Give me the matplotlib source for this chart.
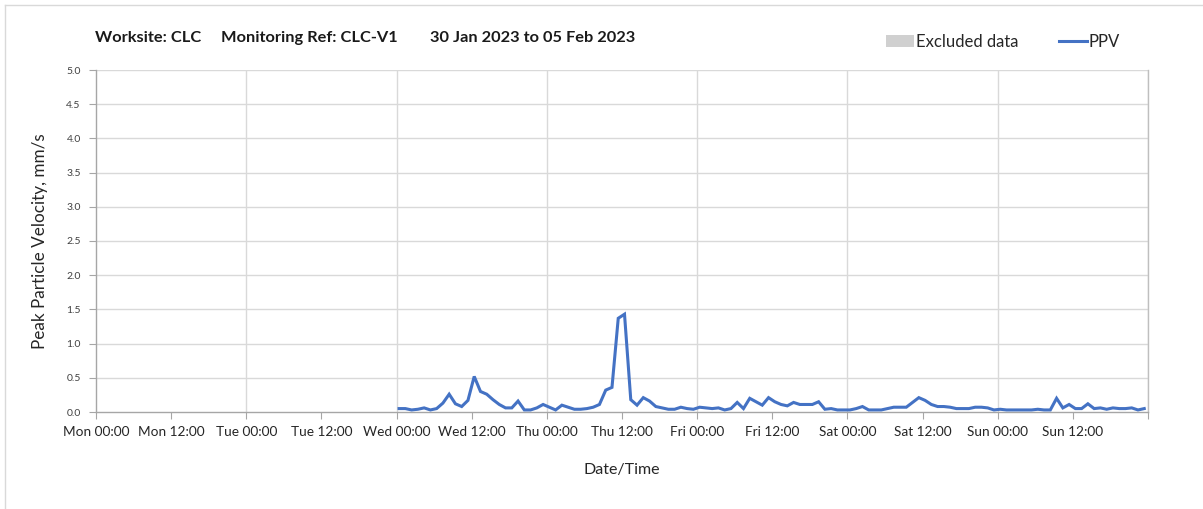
import matplotlib
matplotlib.use("Agg")
import matplotlib.pyplot as plt
import pandas as pd
from matplotlib.lines import Line2D
from matplotlib.patches import Rectangle

# ---- data ----
title_parts = ["Worksite: CLC", "Monitoring Ref: CLC-V1", "30 Jan 2023 to 05 Feb 2023"]
axis_start = "2023-01-30 00:00"
axis_end = "2023-02-06 00:00"
series_start = "2023-02-01 00:24"
ppv = [0.05, 0.05, 0.03, 0.04, 0.06, 0.03, 0.05, 0.13, 0.26, 0.12,
       0.08, 0.17, 0.52, 0.30, 0.26, 0.18, 0.11, 0.06, 0.06, 0.16,
       0.03, 0.03, 0.06, 0.11, 0.07, 0.03, 0.10, 0.07, 0.04, 0.04,
       0.05, 0.07, 0.11, 0.32, 0.36, 1.37, 1.43, 0.18, 0.10, 0.21,
       0.16, 0.08, 0.06, 0.04, 0.04, 0.07, 0.05, 0.04, 0.07, 0.06,
       0.05, 0.06, 0.03, 0.05, 0.14, 0.05, 0.20, 0.15, 0.10, 0.21,
       0.15, 0.11, 0.09, 0.14, 0.11, 0.11, 0.11, 0.15, 0.04, 0.05,
       0.03, 0.03, 0.03, 0.05, 0.08, 0.03, 0.03, 0.03, 0.05, 0.07,
       0.07, 0.07, 0.14, 0.21, 0.17, 0.11, 0.08, 0.08, 0.07, 0.05,
       0.05, 0.05, 0.07, 0.07, 0.06, 0.03, 0.04, 0.03, 0.03, 0.03,
       0.03, 0.03, 0.04, 0.03, 0.03, 0.20, 0.06, 0.11, 0.05, 0.05,
       0.12, 0.05, 0.06, 0.04, 0.06, 0.05, 0.05, 0.06, 0.03, 0.05]
times = pd.date_range(series_start, periods=len(ppv), freq="h")
y_ticks = [0.0, 0.5, 1.0, 1.5, 2.0, 2.5, 3.0, 3.5, 4.0, 4.5, 5.0]
legend_labels = ["Excluded data", "PPV"]

FONT = "Lato"
plt.rcParams["font.family"] = [FONT, "DejaVu Sans"]

W, H = 1203, 509
fig = plt.figure(figsize=(W / 100, H / 100), dpi=100)
ax = fig.add_axes([96 / W, 1 - 412 / H, (1148 - 96) / W, (412 - 70) / H])

line_color = "#4472C4"
ax.plot(times, ppv, color=line_color, lw=2.2, solid_joinstyle="miter", zorder=3)

x0 = pd.Timestamp(axis_start)
x1 = pd.Timestamp(axis_end)
ax.set_xlim(x0, x1)
ax.set_ylim(0, 5)

# x ticks every 12 h, labels through Sun 12:00
major = pd.date_range(x0, x1, freq="12h")
ax.set_xticks(major)
ax.set_xticklabels([t.strftime("%a %H:%M") if t < x1 else "" for t in major],
                   fontsize=9.8, color="#262626")
ax.set_yticks(y_ticks)
ax.set_yticklabels([f"{v:.1f}" for v in y_ticks], fontsize=7.5, color="#404040")

ax.tick_params(axis="x", direction="out", length=5, width=0.8, color="#a6a6a6", pad=5)
ax.tick_params(axis="y", direction="out", length=5, width=0.8, color="#a6a6a6", pad=6)

# gridlines: horizontal every 0.5, vertical each day boundary
ax.grid(False)
for v in y_ticks[1:]:
    ax.axhline(v, color="#d9d9d9", lw=1.0, zorder=1)
for d in pd.date_range(x0, x1, freq="D")[1:]:
    ax.axvline(d, color="#d9d9d9", lw=1.0, zorder=1)

ax.spines["top"].set_visible(False)
ax.spines["right"].set_color("#bfbfbf")
ax.spines["left"].set_color("#a6a6a6")
ax.spines["bottom"].set_color("#a6a6a6")
for s in ["left", "bottom", "right"]:
    ax.spines[s].set_linewidth(1.0)

ax.set_ylabel("Peak Particle Velocity, mm/s", fontsize=12.3, color="#262626", labelpad=13)
ax.set_xlabel("Date/Time", fontsize=11.5, color="#262626", labelpad=18)

# title parts
for xp, txt in zip([95, 221, 430], title_parts):
    fig.text(xp / W, 1 - 38 / H, txt, fontsize=11.8, fontweight="bold",
             va="center", ha="left", color="#1a1a1a")

# legend
handles = [Rectangle((0, 0), 1, 1, facecolor="#d0d0d0", edgecolor="none"),
           Line2D([0], [0], color=line_color, lw=2.2)]
fig.legend(handles, legend_labels, loc="center", bbox_to_anchor=(1003 / W, 1 - 42 / H),
           ncol=2, frameon=False, fontsize=12, handlelength=1.7, handletextpad=0.1,
           columnspacing=2.4, labelcolor="#262626")

# outer frame
fig.add_artist(Line2D([5 / W, 5 / W], [0, 1 - 5 / H], transform=fig.transFigure,
                      color="#d9d9d9", lw=1.0))
fig.add_artist(Line2D([5 / W, 1], [1 - 5 / H, 1 - 5 / H], transform=fig.transFigure,
                      color="#d9d9d9", lw=1.0))

fig.savefig("out.png", dpi=100, facecolor="white")
